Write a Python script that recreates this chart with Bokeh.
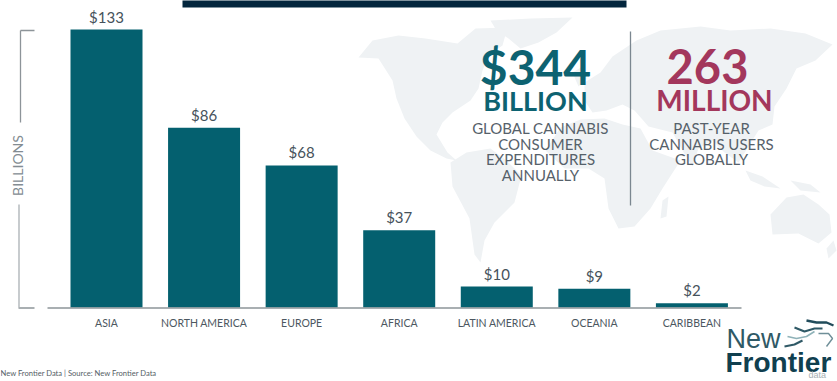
from bokeh.plotting import figure
from bokeh.embed import file_html
from bokeh.resources import INLINE
from bokeh.models import Range1d, FixedTicker, Label
from bokeh.core.properties import value

regions = ["ASIA", "NORTH AMERICA", "EUROPE", "AFRICA", "LATIN AMERICA", "OCEANIA", "CARIBBEAN"]
spend = [133, 86, 68, 37, 10, 9, 2]
spend_labels = ["$133", "$86", "$68", "$37", "$10", "$9", "$2"]

W, H = 837, 381
BASE = 307.0
PX_PER_UNIT = 2.09
STEP = 97.57
X0 = 106.0

def dx(px):
    return (px - X0) / STEP

def dy(py):
    return (BASE - py) / PX_PER_UNIT

p = figure(width=W, height=H, output_backend="svg", toolbar_location=None,
           x_range=Range1d(dx(0), dx(W)), y_range=Range1d(dy(H), dy(0)),
           min_border=0, outline_line_color=None, background_fill_color="white",
           border_fill_color="white")
p.styles = {"position": "absolute", "left": "0", "top": "0"}
p.grid.visible = False
p.yaxis.visible = False

MAP_COLOR = "#eff2f4"
world = [
    # north america
    [(358,57),(372,40),(398,35),(425,38),(457,43),(475,28),(507,27),(502,45),(488,55),(482,70),(478,88),(470,100),
     (452,112),(442,122),(436,134),(447,152),(456,160),(446,158),(430,150),(416,136),(404,118),(396,98),(392,80),(378,58)],
    # greenland
    [(490,20),(530,18),(572,17),(556,32),(538,42),(520,48),(508,38),(496,30)],
    # south america
    [(450,162),(466,152),(490,148),(506,160),(521,175),(514,202),(494,222),(484,240),(480,262),(474,254),(469,218),(452,186)],
    # africa
    [(545,150),(560,127),(580,119),(604,118),(622,124),(640,128),(652,150),(680,160),(662,188),(650,208),(634,226),(618,228),(608,208),(604,178),(588,168),(564,168)],
    # eurasia
    [(584,100),(584,82),(600,72),(612,56),(636,40),(660,30),(700,26),(730,30),(770,28),(805,33),(832,44),(815,60),(796,68),
     (786,88),(774,106),(772,124),(758,130),(748,146),(738,162),(724,152),(712,140),(698,148),(692,166),(682,150),(672,132),
     (648,126),(634,110),(622,104),(606,110),(592,112)],
    # uk / iceland
    [(572,72),(582,66),(586,78),(578,86)],
    # madagascar
    [(662,200),(668,196),(666,216),(660,218)],
    # indonesia
    [(745,170),(762,176),(780,188),(764,186),(750,180)],
    # new guinea
    [(790,180),(810,184),(820,192),(800,190)],
    # australia
    [(770,214),(786,197),(803,194),(818,204),(829,214),(831,232),(818,243),(798,233),(772,234)],
    # new zealand
    [(826,248),(833,240),(836,250),(828,258)],
]
p.patches([[dx(a) for a, _ in poly] for poly in world], [[dy(b) for _, b in poly] for poly in world],
          fill_color=MAP_COLOR, line_color=None)

# bars
idx = list(range(len(regions)))
p.vbar(x=idx, top=spend, bottom=0, width=72 / STEP, fill_color="#04606f", line_color=None)
p.text(x=idx, y=spend, text=spend_labels, text_font=value("Lato"), text_font_size="15px",
       text_color="#46525b", text_align="center", text_baseline="bottom", y_offset=-4)

# x axis
ax = p.xaxis[0]
ax.ticker = FixedTicker(ticks=idx)
ax.major_label_overrides = {i: r for i, r in enumerate(regions)}
ax.fixed_location = 0
ax.axis_line_color = None
ax.major_tick_line_color = None
ax.minor_tick_line_color = None
ax.major_label_standoff = 3
ax.major_label_text_font = "Lato"
ax.major_label_text_font_size = "10.5px"
ax.major_label_text_color = "#4c5760"

# baseline and bracket
GREY = "#8d9499"
for seg, col in [([(18, 307.5), (34, 307.5)], GREY), ([(47, 307.5), (741, 307.5)], GREY),
                 ([(20, 30), (34, 30)], GREY), ([(20, 30), (20, 122)], GREY),
                 ([(18.5, 204), (18.5, 307)], "#aab0b4")]:
    p.line([dx(a) for a, _ in seg], [dy(b) for _, b in seg], line_color=col, line_width=1.3)

def label(px, py, text, size, color, font="Lato", style="normal", align="center", angle=0):
    p.add_layout(Label(x=dx(px), y=dy(py), text=text, text_font=font, text_font_size=f"{size}px",
                       text_font_style=style, text_color=color, text_align=align,
                       text_baseline="middle", angle=angle, angle_units="deg"))

label(17, 165, "BILLIONS", 14, "#838c92", angle=90)

# title bar fragment
p.quad(left=[dx(182)], right=[dx(626)], top=[dy(-2)], bottom=[dy(7)], fill_color="#03263d", line_color=None)

# divider
p.line([dx(630), dx(630)], [dy(31), dy(205)], line_color="#7b8790", line_width=1.3)

# headline figures
TEAL = "#0d6271"
RED = "#a3375c"
label(535, 66, "$344", 48, TEAL, style="bold")
label(535, 100, "BILLION", 27, TEAL, style="bold")
label(707, 66, "263", 47, RED, style="bold")
label(714, 99, "MILLION", 28, RED, style="bold")
for y, t in zip([127, 143, 158, 174], ["GLOBAL CANNABIS", "CONSUMER", "EXPENDITURES", "ANNUALLY"]):
    label(540, y, t, 15, "#56616a")
for y, t in zip([127, 143, 158], ["PAST-YEAR", "CANNABIS USERS", "GLOBALLY"]):
    label(711, y, t, 15, "#56616a")

# footer
label(0, 372, "New Frontier Data | Source: New Frontier Data", 7.6, "#555e66", align="left")

# logo
label(726, 338, "New", 27, "#2f5966", font="Liberation Sans", align="left")
label(725, 362, "Frontier", 28, "#103f4f", font="Liberation Sans", style="bold", align="left")
label(808, 374, "data", 9, "#a7b0b4", font="Liberation Sans", align="left")
for seg, col, w in [
    ([(784, 346), (794, 344), (802, 340)], "#2f5966", 2.0),
    ([(787, 336), (796, 338), (806, 336), (814, 331)], "#8fb2b8", 1.6),
    ([(794, 327), (804, 331), (814, 328), (822, 328)], "#2f5966", 2.0),
    ([(806, 320), (816, 322), (826, 322), (833, 325)], "#214c5b", 2.4),
    ([(818, 333), (828, 333), (832, 338), (826, 346)], "#6f8f98", 1.4),
]:
    p.line([dx(a) for a, _ in seg], [dy(b) for _, b in seg], line_color=col, line_width=w)

open("out.html", "w").write(file_html(p, INLINE))
